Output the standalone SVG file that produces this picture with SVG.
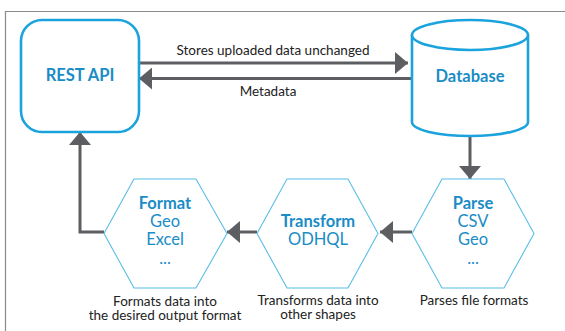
<svg xmlns="http://www.w3.org/2000/svg" width="565" height="331" viewBox="0 0 565 331">
  <style>
    .frame { fill: none; stroke: #8a8a8a; stroke-width: 1.2; }
    .box { fill: #ffffff; stroke: #1aa3dd; stroke-width: 2.6; }
    .hex { fill: #ffffff; stroke: #5bbde8; stroke-width: 1.1; }
    .title { font-family: Lato, "Liberation Sans", sans-serif; font-weight: bold; font-size: 16.5px; fill: #1a8cc6; text-anchor: middle; }
    .item { font-family: Lato, "Liberation Sans", sans-serif; font-size: 16.5px; fill: #1a8cc6; text-anchor: middle; }
    .label { font-family: Lato, "Liberation Sans", sans-serif; font-size: 13.5px; fill: #222222; text-anchor: middle; }
    .wire { fill: none; stroke: #5d5e61; stroke-width: 3; }
  </style>
  <defs>
    <marker id="head" viewBox="0 0 13 22" refX="13" refY="11" markerUnits="userSpaceOnUse" markerWidth="13" markerHeight="22" orient="auto">
      <path d="M0,0 L13,11 L0,22 Z" fill="#5d5e61"/>
    </marker>
  </defs>

  <!-- outer frame (top and left edges) -->
  <path class="frame" d="M5.5,331 V11.5 H565"/>

  <!-- connectors -->
  <g id="connectors">
    <path class="wire" d="M139,63 H408" marker-end="url(#head)"/>
    <path class="wire" d="M412,78.5 H139" marker-end="url(#head)"/>
    <path class="wire" d="M470,137 V179" marker-end="url(#head)"/>
    <path class="wire" d="M412,232 H380" marker-end="url(#head)"/>
    <path class="wire" d="M257,232 H227" marker-end="url(#head)"/>
    <path class="wire" d="M104,232 H80 V132" marker-end="url(#head)"/>
  </g>

  <!-- edge labels -->
  <text class="label" x="273" y="55">Stores uploaded data unchanged</text>
  <text class="label" x="268" y="96">Metadata</text>

  <g id="rest-api">
    <rect class="box" x="21" y="20" width="118" height="112" rx="21" ry="21"/>
    <text class="title" x="80" y="81">REST API</text>
  </g>

  <g id="database">
    <path class="box" d="M412,35 V122 A58,14 0 0 0 528,122 V35"/>
    <ellipse class="box" cx="470" cy="35" rx="58" ry="15"/>
    <text class="title" x="470" y="82">Database</text>
  </g>

  <g id="parse">
    <polygon class="hex" points="412,233.5 442,179 504,179 534,233.5 504,288 442,288"/>
    <text class="title" x="473" y="209">Parse</text>
    <text class="item" x="473" y="227">CSV</text>
    <text class="item" x="473" y="245">Geo</text>
    <text class="item" x="473" y="264">...</text>
    <text class="label" x="474" y="305">Parses file formats</text>
  </g>

  <g id="transform">
    <polygon class="hex" points="257,233.5 287,179 348,179 378,233.5 348,288 287,288"/>
    <text class="title" x="318" y="227">Transform</text>
    <text class="item" x="318" y="245">ODHQL</text>
    <text class="label" x="318" y="305">Transforms data into</text>
    <text class="label" x="318" y="319">other shapes</text>
  </g>

  <g id="format">
    <polygon class="hex" points="104,233.5 134,179 196,179 227,233.5 196,288 134,288"/>
    <text class="title" x="165" y="209">Format</text>
    <text class="item" x="165" y="227">Geo</text>
    <text class="item" x="165" y="245">Excel</text>
    <text class="item" x="165" y="264">...</text>
    <text class="label" x="165" y="306">Formats data into</text>
    <text class="label" x="165" y="320">the desired output format</text>
  </g>
</svg>
